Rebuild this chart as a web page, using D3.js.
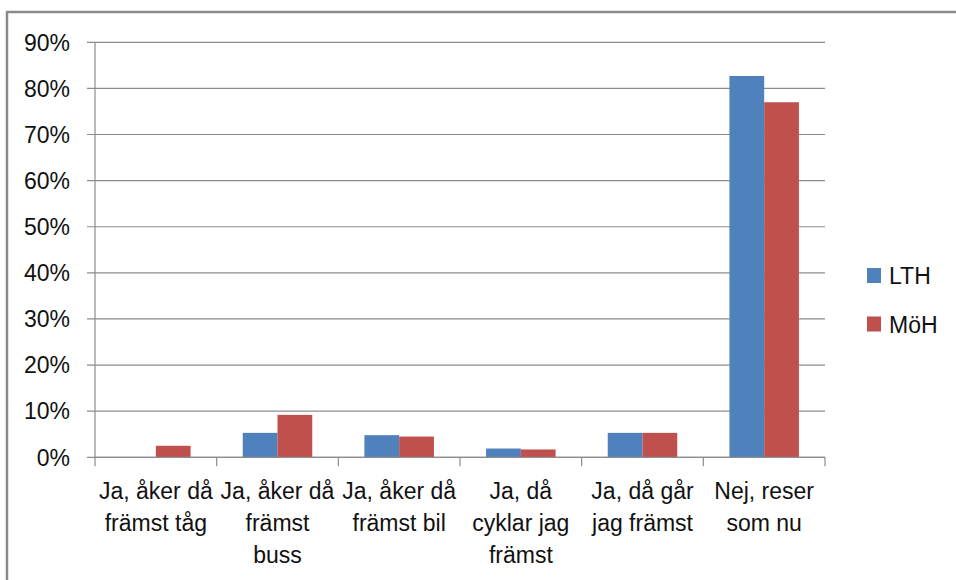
<!DOCTYPE html>
<html>
<head>
<meta charset="utf-8">
<script src="https://cdn.jsdelivr.net/npm/d3@7"></script>
<style>
body { margin: 0; background: #fff; }
text { font-family: "Liberation Sans", Arial, sans-serif; fill: #111; }
</style>
</head>
<body>
<div class="chart"></div>
<script>
// data
var categories = [
  ["Ja, åker då", "främst tåg"],
  ["Ja, åker då", "främst", "buss"],
  ["Ja, åker då", "främst bil"],
  ["Ja, då", "cyklar jag", "främst"],
  ["Ja, då går", "jag främst"],
  ["Nej, reser", "som nu"]
];
var seriesNames = ["LTH", "MöH"];
var lthValues = [0, 0.053, 0.048, 0.019, 0.053, 0.827];
var mohValues = [0.025, 0.092, 0.045, 0.017, 0.053, 0.770];
var yTicks = [0, 0.1, 0.2, 0.3, 0.4, 0.5, 0.6, 0.7, 0.8, 0.9];
var colors = ["#4F81BD", "#C0504D"];

var margin = {top: 42.3, left: 95};
var Width = 730;
var Height = 415;

var svg = d3.select(".chart").append("svg")
  .attr("width", 956)
  .attr("height", 580);

// outer frame
svg.append("rect")
  .attr("x", 7).attr("y", 12)
  .attr("width", 1000).attr("height", 1000)
  .attr("fill", "none")
  .attr("stroke", "#8a8a8a")
  .attr("stroke-width", 2.5);

var g = svg.append("g")
  .attr("transform", "translate(" + margin.left + "," + margin.top + ")");

var idx = d3.range(categories.length);
var xScale = d3.scaleBand().domain(idx).range([0, Width]).padding(0);
var yScale = d3.scaleLinear().domain([0, 0.9]).range([Height, 0]);

// gridlines
g.selectAll(".grid")
  .data(yTicks)
  .enter().append("line")
    .attr("x1", -8).attr("x2", Width)
    .attr("y1", (d) => yScale(d)).attr("y2", (d) => yScale(d))
    .attr("stroke", "#8c8c8c")
    .attr("stroke-width", 1.2);

// y tick labels
g.selectAll(".ylab")
  .data(yTicks)
  .enter().append("text")
    .attr("x", -25)
    .attr("y", (d) => yScale(d))
    .attr("dy", "0.36em")
    .attr("text-anchor", "end")
    .style("font-size", "23px")
    .text(d3.format(".0%"));

// bars
var bw = xScale.bandwidth() / 3.5;
var series = [lthValues, mohValues];
series.forEach((vals, s) => {
  g.selectAll(".bar" + s)
    .data(vals)
    .enter().append("rect")
      .attr("x", (d, i) => xScale(i) + xScale.bandwidth() / 2 - bw + s * bw)
      .attr("y", (d) => yScale(d))
      .attr("width", bw)
      .attr("height", (d) => Height - yScale(d))
      .attr("fill", colors[s]);
});

// y axis line
g.append("line")
  .attr("x1", 0).attr("x2", 0)
  .attr("y1", 0).attr("y2", Height)
  .attr("stroke", "#8c8c8c").attr("stroke-width", 1.2);

// x axis with ticks on category boundaries
g.append("line")
  .attr("x1", 0).attr("x2", Width)
  .attr("y1", Height).attr("y2", Height)
  .attr("stroke", "#8c8c8c").attr("stroke-width", 1.2);
g.selectAll(".xtick")
  .data(d3.range(categories.length + 1))
  .enter().append("line")
    .attr("x1", (d) => d * xScale.step()).attr("x2", (d) => d * xScale.step())
    .attr("y1", Height).attr("y2", Height + 9)
    .attr("stroke", "#8c8c8c").attr("stroke-width", 1.2);

// x labels
var xl = g.selectAll(".xlab")
  .data(categories)
  .enter().append("text")
    .attr("text-anchor", "middle")
    .style("font-size", "23px")
    .attr("transform", (d, i) => "translate(" + (xScale(i) + xScale.bandwidth() / 2) + "," + (Height + 42) + ")");
xl.selectAll("tspan")
  .data((d) => d)
  .enter().append("tspan")
    .attr("x", 0)
    .attr("y", (d, j) => j * 32)
    .text((d) => d);

// legend
var leg = svg.selectAll(".legend")
  .data(seriesNames)
  .enter().append("g")
    .attr("transform", (d, i) => "translate(867," + (268 + i * 48.5) + ")");
leg.append("rect")
  .attr("width", 14).attr("height", 15)
  .attr("fill", (d, i) => colors[i]);
leg.append("text")
  .attr("x", 22).attr("y", 8)
  .attr("dy", "0.36em")
  .style("font-size", "23px")
  .text((d) => d);
</script>
</body>
</html>
